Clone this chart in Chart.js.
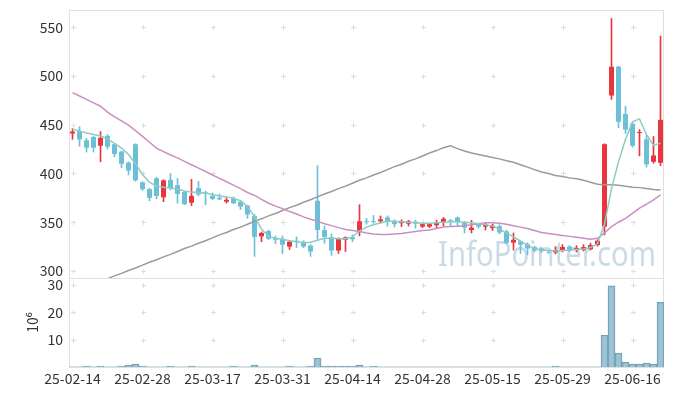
<!DOCTYPE html>
<html>
<head>
<meta charset="utf-8">
<script src="https://cdn.jsdelivr.net/npm/chart.js@4.4.1/dist/chart.umd.min.js"></script>
<style>
  html, body { margin: 0; padding: 0; background: #fff; }
  #wrap { width: 673px; height: 396px; }
</style>
</head>
<body>
<div id="wrap"><canvas id="chart" width="673" height="396"></canvas></div>
<script>
// trading days (KRX calendar)
const dates = [
  '25-02-14','25-02-17','25-02-18','25-02-19','25-02-20','25-02-21','25-02-24','25-02-25','25-02-26','25-02-27','25-02-28',
  '25-03-04','25-03-05','25-03-06','25-03-07','25-03-10','25-03-11','25-03-12','25-03-13','25-03-14','25-03-17',
  '25-03-18','25-03-19','25-03-20','25-03-21','25-03-24','25-03-25','25-03-26','25-03-27','25-03-28','25-03-31',
  '25-04-01','25-04-02','25-04-03','25-04-04','25-04-07','25-04-08','25-04-09','25-04-10','25-04-11','25-04-14',
  '25-04-15','25-04-16','25-04-17','25-04-18','25-04-21','25-04-22','25-04-23','25-04-24','25-04-25','25-04-28',
  '25-04-29','25-04-30','25-05-02','25-05-07','25-05-08','25-05-09','25-05-12','25-05-13','25-05-14','25-05-15',
  '25-05-16','25-05-19','25-05-20','25-05-21','25-05-22','25-05-23','25-05-26','25-05-27','25-05-28','25-05-29',
  '25-05-30','25-06-02','25-06-04','25-06-05','25-06-09','25-06-10','25-06-11','25-06-12','25-06-13','25-06-16',
  '25-06-17','25-06-18','25-06-19','25-06-20'
];

const opens = [
  441, 443.5, 434, 437.5, 428.5, 438.5, 430, 422.5, 411, 430,
  391, 384, 395, 375.5, 393.5, 388, 381, 370, 385, 380.5,
  377, 375, 371, 375, 371, 367, 356.5, 335.5, 341, 334,
  333, 325, 331, 330, 326, 372, 342, 334.5, 321, 332,
  334.5, 340.5, 351, 351, 351, 355, 351, 349, 348.5, 350.5,
  345.5, 345.5, 347, 350, 352, 355, 349.5, 342, 348, 345.5,
  344, 346, 340.5, 329, 330.5, 327.5, 324.5, 323, 319.5, 319,
  321.5, 325, 321.5, 321.5, 322.5, 326.5, 345.5, 480, 509.5, 461,
  451, 441.5, 435, 412, 411
];
const highs = [
  446, 448, 436, 438, 443, 440, 431, 423, 412, 430.5,
  391.5, 385, 396, 393.5, 400, 395, 381.5, 394, 392, 382,
  380, 379, 375, 376, 372, 367.5, 358, 340, 342, 336,
  336, 331, 335, 331, 327, 408, 346, 338, 334, 335,
  337, 368, 354, 357, 356.5, 356.5, 352.5, 352.5, 352, 352,
  349, 349, 352, 355, 353, 355.5, 351, 352, 349, 349,
  348, 347.5, 342, 339, 331, 329, 325.5, 324, 321, 325,
  327, 326, 326, 327, 328.5, 332, 430.5, 559, 510, 469,
  452, 445, 439.5, 438, 541
];
const lows = [
  435, 428, 422, 422, 412, 425, 417, 406, 398.5, 392,
  382.5, 372, 374, 371, 383, 369.5, 368, 367, 377, 368,
  373, 373, 369.5, 369, 363, 354, 315, 330, 332, 328,
  318, 322, 324, 324, 315, 332.5, 328.5, 316, 318, 320,
  330, 336, 348, 349, 349, 346, 345, 345.5, 346, 344,
  344.5, 344.5, 344, 346, 346, 345.5, 339, 339, 344, 342,
  341.5, 338, 328, 321.5, 318, 316.5, 319.5, 319, 318, 317.5,
  319.5, 320, 319.5, 320.5, 321.5, 325.5, 337, 476, 447, 441,
  427, 418, 406.5, 410.5, 408
];
const closes = [
  443, 435, 426.5, 426.5, 436.5, 427.5, 420, 410, 403, 393,
  384, 375, 377, 393, 385, 379, 368.5, 377, 378.5, 379.5,
  374, 373.5, 373, 369.5, 366, 358, 335, 339, 333, 332,
  327, 330, 330, 325, 320, 342, 335, 321, 333, 334.5,
  332.5, 351, 350, 350, 353, 350.5, 348, 351, 351, 348.5,
  348, 348, 350, 353.5, 351, 350, 344.5, 344.5, 345.5, 347.5,
  346.5, 339.5, 329, 332, 327, 323, 321, 320.5, 319, 321.5,
  324.5, 321, 323.5, 324.5, 326.5, 331, 430, 509.5, 453, 445,
  428.5, 442.5, 409.5, 418.5, 455
];

const ma5 = [
  445.5, 443.5, 441.5, 440, 438.5, 435.5, 431, 426, 419.5, 410,
  399, 391, 387, 386, 385, 384, 382, 381, 380.5, 380,
  378.5, 377, 376, 374.5, 372, 366, 356, 343, 335.5, 333.5,
  332.5, 331, 330, 329, 329.5, 331.5, 333.5, 333.5, 333, 333,
  335, 341, 345, 347.5, 349.5, 351, 351, 350.5, 350, 349.5,
  349, 349, 349.5, 350, 350.5, 350.5, 350, 349.5, 348.5, 347.5,
  346, 343, 339, 335, 330.5, 326.5, 323, 321.5, 321, 320.5,
  321, 321.5, 322, 322.5, 324, 328, 348, 384.5, 412, 435,
  453, 456, 440, 429, 431
];
const ma20 = [
  483, 479.5, 476, 472.5, 469, 463, 458, 454, 449.5, 444,
  438, 432, 426, 422.5, 419, 416, 412.5, 409, 405.5, 402,
  398.5, 395, 391.5, 388, 384.5, 380.5, 377.5, 373.5, 369.5, 366.5,
  364, 361, 358.5, 355.5, 353, 351, 348.5, 346.5, 344.5, 342.5,
  341.5, 340.5, 339, 338, 337.5, 337.5, 338, 338.5, 339.5, 340.5,
  341.5, 342, 343.5, 345, 345.5, 346, 346.5, 347.5, 348.5, 349.5,
  349.5, 349, 348, 346.5, 345, 343.5, 341.5, 339.5, 338.5, 337.5,
  336.5, 335.5, 334.5, 333.5, 332.5, 333.5, 339, 345.5, 350, 354,
  359, 364.5, 368.5, 373, 378
];
const ma60 = [
  278, 281, 283.5, 286.5, 289, 292, 295, 297.5, 300.5, 303,
  306, 309, 311.5, 314.5, 317, 320, 323, 325.5, 328.5, 331,
  334, 337, 339.5, 342.5, 345, 348, 351, 353.5, 356.5, 359,
  362, 365, 367.5, 370.5, 373, 376, 379, 381.5, 384.5, 387,
  390, 393, 395.5, 398.5, 401, 404, 407, 409.5, 412.5, 415,
  418, 421, 423.5, 426.5, 428.5, 425.5, 423, 421, 419.5, 418,
  416.5, 415, 413, 411.5, 409, 406.5, 404, 401.5, 400, 398,
  397, 395.5, 394.5, 393, 391, 389, 388.5, 388.5, 388, 387,
  386, 385.5, 384.5, 383.5, 383
];

// volume, millions of shares
const volume = [
  0.08, 0.08, 0.35, 0.08, 0.35, 0.08, 0.08, 0.35, 0.7, 1.1,
  0.35, 0.08, 0.08, 0.08, 0.35, 0.08, 0.08, 0.35, 0.08, 0.08,
  0.08, 0.08, 0.08, 0.35, 0.08, 0.08, 0.7, 0.08, 0.08, 0.08,
  0.08, 0.35, 0.08, 0.08, 0.35, 3.3, 0.35, 0.35, 0.35, 0.35,
  0.35, 0.7, 0.08, 0.35, 0.08, 0.08, 0.08, 0.08, 0.08, 0.08,
  0.08, 0.08, 0.08, 0.08, 0.08, 0.08, 0.08, 0.08, 0.08, 0.08,
  0.08, 0.08, 0.08, 0.08, 0.08, 0.08, 0.08, 0.08, 0.08, 0.35,
  0.08, 0.08, 0.08, 0.08, 0.08, 0.08, 11.6, 29.6, 5.1, 1.8,
  1.1, 1.1, 1.45, 1.1, 23.6
];

const priceTicks = [300, 350, 400, 450, 500, 550];
const volumeTicks = [10, 20, 30];

const UP = '#e8363c', DOWN = '#6bc0d8';
const candleColors = opens.map((o, i) => closes[i] >= o ? UP : DOWN);
const tickFont = { family: '"Noto Sans CJK KR", "Noto Sans", sans-serif', size: 14 };

// no extra room for half tick labels at the scale ends
const noPad = s => { s.paddingTop = 0; s.paddingBottom = 0; s.paddingLeft = 0; s.paddingRight = 0; };

const panels = {
  id: 'panels',
  beforeDatasetsDraw(chart) {
    const { ctx, chartArea, scales } = chart;
    const yp = scales.y, yv = scales.yv;
    ctx.save();
    // watermark
    ctx.font = '34px "Noto Sans", sans-serif';
    ctx.fillStyle = 'rgba(180,205,220,0.72)';
    ctx.textAlign = 'right';
    ctx.textBaseline = 'alphabetic';
    ctx.fillText('InfoPointer.com', chartArea.right - 8, yp.bottom - 12, 218);
    // grid crosses
    ctx.strokeStyle = '#dddddd';
    ctx.lineWidth = 1;
    const ys = priceTicks.map(v => yp.getPixelForValue(v)).concat(volumeTicks.map(v => yv.getPixelForValue(v)));
    dates.forEach((d, i) => {
      if (i % 10) return;
      const px = Math.round(scales.x.getPixelForValue(i)) + 0.5;
      ys.forEach(y => {
        const py = Math.round(y) + 0.5;
        ctx.beginPath();
        ctx.moveTo(px - 2.5, py); ctx.lineTo(px + 2.5, py);
        ctx.moveTo(px, py - 2.5); ctx.lineTo(px, py + 2.5);
        ctx.stroke();
      });
    });
    // frame and divider
    ctx.strokeStyle = '#e0e0e0';
    ctx.strokeRect(chartArea.left + 0.5, chartArea.top + 0.5, chartArea.right - chartArea.left - 1, chartArea.bottom - chartArea.top);
    ctx.beginPath();
    ctx.moveTo(chartArea.left, Math.round(yp.bottom) + 0.5);
    ctx.lineTo(chartArea.right, Math.round(yp.bottom) + 0.5);
    ctx.stroke();
    ctx.restore();
  },
  beforeDatasetDraw(chart, args) {
    const { ctx, chartArea } = chart;
    const s = chart.scales[args.meta.yAxisID];
    ctx.save();
    ctx.beginPath();
    ctx.rect(chartArea.left, s.top, chartArea.right - chartArea.left, s.bottom - s.top);
    ctx.clip();
  },
  afterDatasetDraw(chart) {
    chart.ctx.restore();
  }
};

new Chart(document.getElementById('chart'), {
  type: 'bar',
  data: {
    labels: dates,
    datasets: [
      { type: 'line', label: 'MA5', data: ma5, borderColor: '#8fcbc4', borderWidth: 1.5, pointRadius: 0, yAxisID: 'y', order: 0 },
      { type: 'line', label: 'MA20', data: ma20, borderColor: '#c98fc3', borderWidth: 1.5, pointRadius: 0, yAxisID: 'y', order: 0 },
      { type: 'line', label: 'MA60', data: ma60, borderColor: '#9a9a9a', borderWidth: 1.5, pointRadius: 0, yAxisID: 'y', order: 0 },
      { label: 'body', data: opens.map((o, i) => [o, closes[i]]), backgroundColor: candleColors,
        barPercentage: 0.72, categoryPercentage: 1, grouped: false, yAxisID: 'y', order: 1 },
      { label: 'wick', data: lows.map((l, i) => [l, highs[i]]), backgroundColor: candleColors,
        barThickness: 1, grouped: false, yAxisID: 'y', order: 2 },
      { label: 'volume', data: volume, backgroundColor: 'rgba(140,186,206,0.85)', borderColor: '#6d9fb6', borderWidth: 1,
        barPercentage: 1, categoryPercentage: 1, grouped: false, yAxisID: 'yv', order: 3 }
    ]
  },
  options: {
    responsive: false,
    animation: false,
    layout: { padding: { top: 10, right: 9, bottom: 0, left: 0 } },
    plugins: { legend: { display: false }, tooltip: { enabled: false } },
    scales: {
      x: {
        offset: true,
        grid: { display: false, drawTicks: false },
        border: { display: false },
        ticks: { autoSkip: false, maxRotation: 0, padding: 3, color: '#333', font: tickFont,
                 callback: (v, i) => i % 10 === 0 ? dates[i] : '' },
        afterFit: s => { noPad(s); s.height = 29; }
      },
      // volume pane is listed first so the layout stacks it below the price pane
      yv: {
        position: 'left', stack: 'panes', stackWeight: 89,
        min: 0, max: 32.5,
        grid: { display: false, drawTicks: false },
        border: { display: false },
        ticks: { padding: 6, color: '#333', font: tickFont },
        title: { display: true, text: '10⁶', color: '#333', font: tickFont, padding: { top: 24 } },
        afterBuildTicks: s => { s.ticks = volumeTicks.map(v => ({ value: v })); },
        afterFit: s => { noPad(s); s.width = 69; }
      },
      y: {
        position: 'left', stack: 'panes', stackWeight: 268,
        min: 292.8, max: 567.7,
        grid: { display: false, drawTicks: false },
        border: { display: false },
        ticks: { padding: 6, color: '#333', font: tickFont },
        afterBuildTicks: s => { s.ticks = priceTicks.map(v => ({ value: v })); },
        afterFit: s => { noPad(s); s.width = 69; }
      }
    }
  },
  plugins: [panels]
});
</script>
</body>
</html>
